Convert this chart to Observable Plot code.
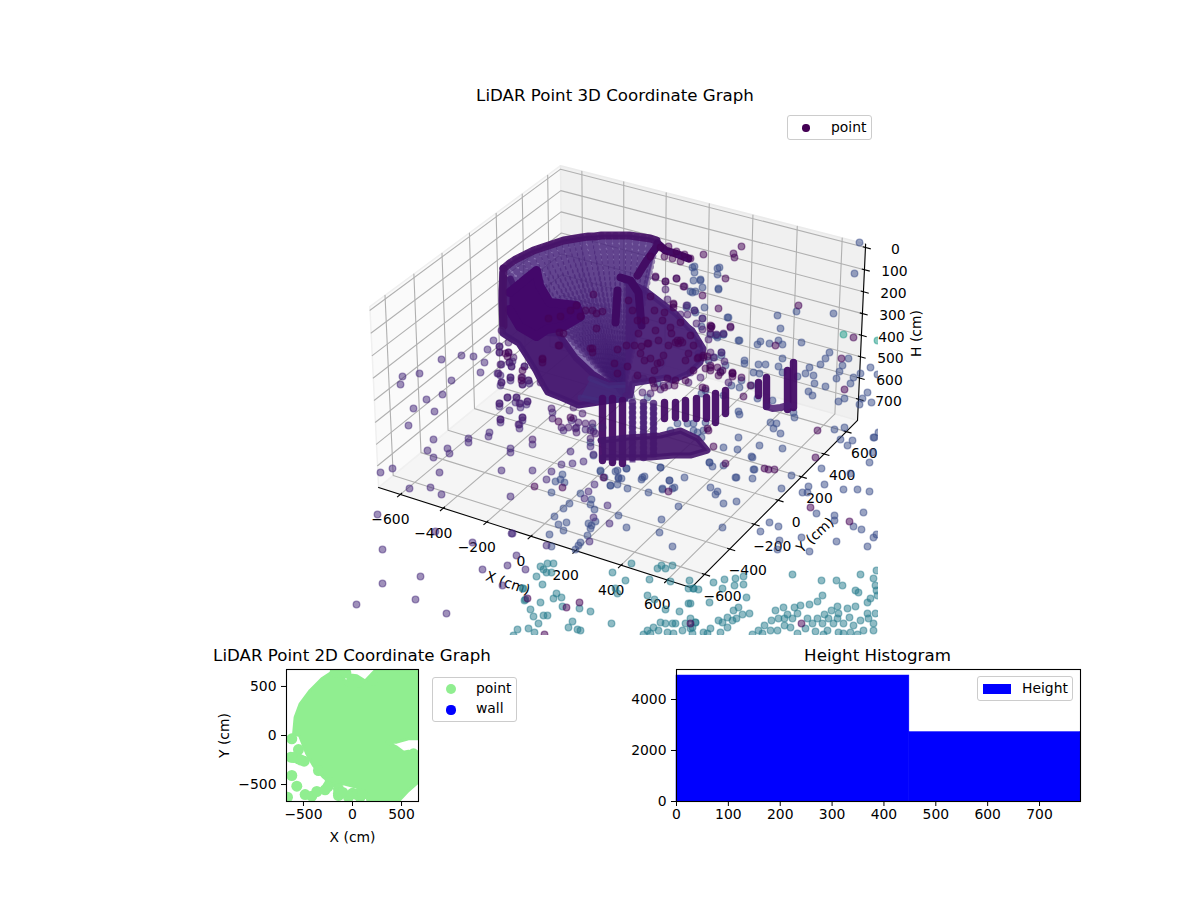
<!DOCTYPE html>
<html><head><meta charset="utf-8">
<script src="https://cdn.jsdelivr.net/npm/d3@7"></script>
<script src="https://cdn.jsdelivr.net/npm/@observablehq/plot@0.6"></script>
<style>
html,body{margin:0;padding:0;background:#fff;font-family:"DejaVu Sans",sans-serif;color:#000}
#page{position:relative;width:1200px;height:900px;overflow:hidden}
.holder{position:absolute}
.holder svg{display:block;background:transparent;font-family:"DejaVu Sans",sans-serif;overflow:visible}
.ttl{position:absolute;font-size:16.67px;line-height:1;white-space:nowrap;transform:translate(-50%,-50%)}
.lg{position:absolute;background:rgba(255,255,255,.8);border:1px solid #ccc;border-radius:3px;box-sizing:border-box}
.lg i{position:absolute;display:block}
.lg span{position:absolute;font-size:13.9px;line-height:1;white-space:nowrap}
</style></head><body><div id="page"></div>
<script>
// ---------- chart values ----------
const xTicks3d=[-600,-400,-200,0,200,400,600];
const yTicks3d=[-600,-400,-200,0,200,400,600];
const hTicks3d=[0,100,200,300,400,500,600,700];
const xyLimit=703, hLow=-16, hHigh=801;
const ticks2d=[-500,0,500];
const histEdges=[0,449,779];
const histCounts=[4940,2720];
const histXTicks=[0,100,200,300,400,500,600,700];
const histYTicks=[0,2000,4000];

const darkDots=[[741,246],[703,254],[733,253],[734,257],[725,278],[702,295],[798,305],[718,308],[730,326],[853,337],[711,326],[775,345],[707,356],[841,358],[844,389],[743,396],[741,377],[732,373],[817,430],[707,428],[815,457],[849,521],[725,463],[713,446],[764,468],[768,469],[774,469],[562,487],[534,486],[668,491],[579,602],[566,607],[527,598],[544,634],[690,623],[801,623],[593,294],[590,348],[542,359],[592,310],[602,311],[596,313],[596,328],[559,332],[558,345],[673,304],[680,340],[675,342],[703,357],[710,365],[717,367],[732,372],[720,372],[705,368],[698,357],[693,345],[710,325],[683,286],[676,278],[665,281],[655,276],[678,343],[710,370],[732,376],[505,353],[507,356],[521,380],[542,362],[592,352],[603,477],[708,430],[750,385],[810,507],[673,307],[710,328],[654,387],[664,387],[674,385],[685,380],[693,370],[685,360],[671,333],[657,363],[644,360],[637,375],[627,366],[617,373],[614,363],[617,349],[641,346],[647,343],[654,370]];
const cloudDark=[[673,303],[670,327],[677,340],[682,342],[658,340],[640,353],[663,355],[688,353],[697,358],[703,355],[710,367],[722,370],[718,375],[732,373],[702,387],[705,388],[675,380],[667,378],[652,380],[637,320],[632,310],[645,320],[662,320],[655,330],[648,343],[638,333],[508,352],[522,370],[521,377],[542,358],[592,348],[559,345],[563,333],[558,421],[570,417],[660,247],[668,246],[676,251],[684,254],[690,258],[664,256],[672,258],[680,261],[650,256],[576,305],[580,316],[570,310],[560,316],[585,310],[548,318],[654,310],[664,312],[680,322],[690,335],[668,345],[650,358],[634,345],[628,300],[650,296],[660,362],[626,345]];
const cloudViolet=[[655,277],[665,281],[676,278],[684,286],[665,289],[667,299],[686,305],[694,310],[680,314],[687,314],[702,318],[696,323],[711,326],[730,327],[716,334],[710,333],[723,333],[708,339],[702,329],[698,343],[721,352],[710,352],[713,357],[724,361],[728,382],[700,377],[690,372],[688,382],[668,385],[660,389],[663,385],[653,383],[643,378],[642,392],[650,393],[635,378],[501,330],[508,342],[499,346],[499,352],[513,357],[509,362],[500,364],[511,366],[524,366],[498,373],[510,377],[528,380],[522,384],[501,382],[540,382],[499,403],[507,397],[516,397],[519,403],[527,401],[500,419],[522,417],[518,424],[532,439],[551,408],[552,418],[561,427],[568,427],[573,418],[578,422],[575,428],[576,432],[582,413],[573,407],[585,423],[592,423],[590,430],[595,433],[590,438],[602,427]];
const violetDots=[[441,359],[461,355],[473,356],[487,349],[484,362],[480,372],[497,373],[501,364],[402,376],[419,373],[400,384],[451,380],[442,394],[426,399],[413,408],[434,411],[408,425],[433,439],[468,438],[489,432],[501,382],[499,403],[507,397],[516,397],[520,403],[527,401],[500,419],[522,417],[519,424],[510,448],[447,448],[449,453],[427,450],[433,457],[380,472],[392,468],[439,472],[501,470],[409,488],[430,487],[441,494],[510,496],[377,514],[435,531],[511,533],[472,542],[382,549],[516,555],[507,565],[482,569],[525,569],[420,576],[382,583],[502,585],[415,599],[356,604],[446,613],[499,346],[499,352],[508,352],[511,366],[509,362],[522,377],[510,377],[522,384],[524,366],[528,380],[493,340],[512,361],[510,380],[500,385],[529,383],[500,375],[552,412],[571,420],[563,430],[576,427],[509,410],[515,402],[526,404],[499,406],[520,407],[500,422],[522,420],[519,428],[488,436],[468,442],[532,444],[510,452],[532,470],[551,471],[561,464],[572,463],[583,461],[593,454],[546,479],[594,484],[588,491],[584,498],[607,505],[593,517],[609,523],[589,541],[546,545],[512,533],[585,429],[593,431],[590,446],[570,451]];
const slateDots=[[562,474],[555,481],[560,479],[564,482],[551,492],[600,471],[604,477],[615,471],[626,468],[618,477],[621,478],[610,485],[617,484],[627,488],[641,479],[644,476],[660,467],[669,480],[684,477],[662,489],[674,487],[648,492],[580,493],[591,499],[569,503],[563,508],[590,504],[594,509],[678,506],[554,516],[618,515],[661,519],[558,524],[566,522],[588,523],[595,521],[591,525],[590,528],[626,527],[659,532],[563,530],[549,534],[587,535],[580,542],[578,545],[575,549],[672,546],[551,546],[719,267],[717,274],[718,289],[700,279],[702,287],[694,272],[693,280],[692,292],[694,266],[796,311],[777,315],[833,313],[694,310],[728,317],[702,318],[780,328],[710,334],[717,335],[723,334],[739,340],[757,344],[760,341],[769,343],[778,340],[782,344],[801,342],[829,352],[825,358],[820,364],[848,358],[842,365],[839,371],[836,378],[809,367],[805,373],[813,375],[782,358],[778,366],[782,372],[744,360],[758,364],[765,364],[721,352],[714,357],[797,376],[759,373],[753,372],[870,367],[860,373],[853,377],[850,383],[877,374],[814,383],[825,386],[808,391],[812,395],[867,392],[862,398],[859,404],[871,402],[844,398],[838,401],[751,385],[739,387],[738,411],[772,400],[793,412],[794,417],[770,422],[776,423],[773,428],[780,433],[834,429],[844,427],[873,437],[878,432],[738,437],[697,432],[701,437],[854,273],[859,242],[759,445],[782,448],[821,468],[791,475],[824,484],[808,486],[802,492],[807,492],[781,488],[843,489],[857,489],[869,491],[816,513],[834,515],[834,520],[863,512],[853,526],[861,529],[876,534],[873,537],[867,546],[836,541],[769,522],[778,526],[760,531],[801,537],[779,540],[809,551],[777,549],[722,527],[723,503],[736,501],[710,487],[717,491],[715,494],[736,477],[752,478],[753,469],[751,456],[752,457],[723,465],[709,462],[712,466],[737,449],[723,447],[874,437],[840,439],[847,445],[852,440],[872,452],[869,462],[850,473],[692,267],[700,280],[717,268],[718,288],[695,291],[690,291],[687,305],[704,307],[727,317],[715,335],[723,334],[738,340],[686,307],[695,312],[701,326],[717,337],[721,355],[698,353],[708,360],[725,365],[744,363],[741,380],[720,371],[731,385],[723,395],[739,414],[705,390],[701,393],[647,397],[657,383],[600,470],[617,470],[618,478],[642,477],[626,468],[660,467],[669,480],[610,485],[662,488],[672,488],[709,462],[754,469],[735,477],[757,398],[670,430],[677,423],[687,423],[693,430],[703,430],[693,423],[705,422],[593,455],[590,442],[592,427]];
const tealDots=[[523,588],[525,599],[530,609],[528,628],[517,629],[513,635],[631,563],[672,565],[657,568],[661,565],[665,568],[540,566],[547,563],[553,563],[543,569],[546,572],[551,572],[536,576],[542,584],[612,572],[625,580],[615,588],[649,579],[670,581],[617,593],[522,588],[524,600],[556,593],[553,598],[561,597],[540,602],[562,606],[579,608],[590,611],[533,616],[543,615],[547,615],[647,595],[654,599],[688,603],[665,609],[679,611],[688,588],[693,588],[698,589],[689,580],[572,621],[568,627],[538,623],[611,623],[577,629],[580,630],[534,632],[660,622],[665,623],[672,623],[675,623],[685,623],[690,618],[695,622],[690,628],[653,627],[647,630],[658,630],[667,632],[673,633],[682,630],[643,634],[650,633],[792,574],[860,574],[876,570],[873,578],[836,580],[821,580],[842,585],[875,585],[855,590],[858,592],[876,590],[822,595],[877,595],[870,598],[867,602],[817,601],[809,604],[800,605],[794,607],[783,607],[855,606],[847,608],[837,606],[831,610],[775,610],[787,614],[797,613],[838,613],[824,614],[867,613],[875,613],[778,618],[784,618],[792,618],[807,618],[817,618],[828,618],[837,618],[849,617],[860,620],[868,618],[771,620],[764,625],[784,625],[812,623],[822,623],[833,623],[843,623],[853,625],[873,623],[758,630],[770,630],[777,630],[790,627],[805,628],[815,631],[827,630],[838,632],[850,632],[863,630],[873,630],[752,634],[797,633],[823,634],[843,633],[857,634],[713,582],[724,579],[735,578],[743,576],[743,584],[734,585],[722,588],[746,597],[709,602],[738,607],[733,610],[749,613],[742,614],[727,617],[718,620],[736,618],[732,620],[722,622],[710,628],[720,632],[703,632],[707,633],[727,627],[695,622],[692,627],[693,588],[690,603],[762,633],[692,633]];
const mintDots=[[843,334],[877,340]];

// solid bands of overlapping returns
const fanRim=[[503,268],[509,263],[515,259],[521,256],[527,253],[533,250],[539,248],[545,246],[551,244],[557,242],[563,240],[569,239],[575,238],[581,237],[588,236],[594,236],[601,235],[608,235],[615,235],[622,235],[629,235],[636,236],[643,237],[650,238],[656,240]];
const fanApex=[622,392];
const fanSkirt=[[592,373],[575,357],[558,333],[540,330]];
const bodyLeft=[[502,272],[501,300],[502,333],[508,337],[518,343],[527,357],[535,370],[540,380],[547,392],[562,398],[578,405],[598,402],[625,398],[625,387],[608,383],[592,373],[575,357],[558,333],[533,332],[515,290],[510,278]];
const bodyCore=[[590,378],[608,385],[628,384],[632,398],[600,401],[580,397]];
const bodyRight=[[625,280],[645,290],[662,303],[675,313],[688,327],[692,330],[703,348],[700,362],[688,373],[672,380],[665,377],[650,380],[632,383],[630,395],[625,395]];
const blobDark=[[509,292],[526,278],[536,270],[539,285],[549,302],[576,305],[580,316],[563,326],[546,329],[536,336],[519,326],[509,309]];
const blobFloor=[[600,440],[627,437],[660,435],[680,430],[697,438],[707,450],[690,455],[673,455],[650,457],[602,457]];
const archA=[[620,277],[630,280],[638,292],[641,325]];
const archB=[[617,290],[615,322]];
const wing=[[657,243],[665,250],[675,253],[688,258]];
const wingDrop=[[657,245],[645,262],[637,275]];
const leftEdge=[[503,268],[502,290],[503,325]];
const columnX=[602,612,622,632,643,653,664,675,685,696,706,715,725,793,787,766,758];
const columnTop=[398,398,400,402,402,403,402,402,400,398,397,393,390,362,370,377,382];
const columnBottom=[460,462,463,462,458,457,418,417,418,418,418,422,413,407,409,406,395];
const foot=[[766,406],[772,408],[780,407],[788,405]];

// 2D panel, centimetres
const outlineCm=[[-602,0],[-585,187],[-534,323],[-432,459],[-313,578],[-211,646],[-194,690],[-126,690],[-109,629],[-58,510],[-40,620],[44,610],[129,555],[180,610],[231,663],[282,690],[690,690],[690,-34],[571,-34],[452,-68],[350,-68],[452,-119],[520,-170],[571,-160],[690,-221],[690,-459],[571,-561],[452,-687],[163,-687],[139,-595],[44,-527],[-92,-493],[-194,-510],[-296,-425],[-398,-306],[-466,-187],[-534,-17]];
const edgeDotsCm=[[-619,-34],[-551,-143],[-629,-221],[-551,-238],[-493,-262],[-600,-225],[-525,-250],[-619,-408],[-568,-517],[-663,-629],[-483,-602],[-415,-619],[-364,-571],[-279,-554],[-347,-357],[-143,-612],[-41,-629],[78,-629],[-143,-544],[-177,646],[-68,639],[61,544],[214,568],[622,-187],[-143,-590],[-100,-580],[0,-590],[40,-600],[100,-600],[-230,-480],[-250,-520]];

// ---------- view projection (elev 30, azim -60) ----------
function project(X,Y,H){
  const dx=X/xyLimit*.595, dy=Y/xyLimit*.595, dz=((hLow+hHigh)/2-H)/((hHigh-hLow)/2)*.346;
  const u=.866*dx+.5*dy, v=-.25*dx+.433*dy+.866*dz, depth=10-(.433*dx-.75*dy+.5*dz);
  return {x:622+2996*u/depth, y:365-2980*v/depth};
}
const L=xyLimit, T=hLow, B=hHigh, tickUnit=2*L/12;
const pane=(id,c)=>c.map(p=>({...project(...p),id}));
const paneFloor=pane("floor",[[-L,-L,B],[L,-L,B],[L,L,B],[-L,L,B],[-L,-L,B]]);
const paneLeft=pane("left",[[-L,-L,B],[-L,L,B],[-L,L,T],[-L,-L,T],[-L,-L,B]]);
const paneBack=pane("back",[[-L,L,B],[L,L,B],[L,L,T],[-L,L,T],[-L,L,B]]);
const grid=[
  ...xTicks3d.flatMap(t=>[[t,-L,B],[t,L,B],[t,L,T]].map(p=>({...project(...p),id:"x"+t}))),
  ...yTicks3d.flatMap(t=>[[L,t,B],[-L,t,B],[-L,t,T]].map(p=>({...project(...p),id:"y"+t}))),
  ...hTicks3d.flatMap(t=>[[-L,-L,t],[-L,L,t],[L,L,t]].map(p=>({...project(...p),id:"h"+t})))
];
const axesLines=[[-L,-L,B],[L,-L,B],[L,L,B],[L,L,T]].map(p=>project(...p));
const seg=(a,b)=>{const p=project(...a),q=project(...b);return {x1:p.x,y1:p.y,x2:q.x,y2:q.y};};
const tickSegs=[
  ...xTicks3d.map(t=>seg([t,-L+.1*tickUnit,B],[t,-L-.2*tickUnit,B])),
  ...yTicks3d.map(t=>seg([L-.1*tickUnit,t,B],[L+.2*tickUnit,t,B])),
  ...hTicks3d.map(t=>seg([L-.1*tickUnit,L,t],[L+.2*tickUnit,L,t]))
];
const fmt=d=>String(d).replace("-","\u2212");
const xLabels=xTicks3d.map(t=>({...project(t,-L,B),t:fmt(t)}));
const yLabels=yTicks3d.map(t=>({...project(L,t,B),t:fmt(t)}));
const hLabels=hTicks3d.map(t=>({...project(L,L,t),t:fmt(t)}));
const toDots=(a,v)=>a.map(([x,y])=>({x,y,v}));
const behindDots=[...toDots(mintDots,.55),...toDots(tealDots,.42),...toDots(slateDots,.24),...toDots(violetDots,.12)];
const frontDots=[...toDots(cloudViolet,.08),...toDots(darkDots,.01),...toDots(cloudDark,.01)];
const dotStyle={x:"x",y:"y",r:3.3,fill:"v",stroke:"v",strokeWidth:1.3,fillOpacity:.52,strokeOpacity:.52,clip:true};
const px=p=>p[0], py=p=>p[1];
const band=(a,stroke,w,o=1)=>Plot.line(a,{x:px,y:py,stroke,strokeWidth:w,strokeOpacity:o,strokeLinecap:"round",strokeLinejoin:"round"});
const poly=(a,fill,o,w=6)=>Plot.line(a,{x:px,y:py,fill,fillOpacity:o,stroke:fill,strokeOpacity:o,strokeWidth:w,strokeLinejoin:"round"});
const columns=columnX.map((x,i)=>({x,top:columnTop[i],bottom:columnBottom[i],dark:i<3||i>5}));
const fanBody=[...fanRim,fanApex,...fanSkirt];

// ---------- 3D panel ----------
const main=Plot.plot({
  width:1200,height:650,marginLeft:352,marginRight:322,marginTop:104,marginBottom:15,
  x:{domain:[352,878],range:[352,878],axis:null},
  y:{domain:[104,635],range:[104,635],axis:null},
  color:{type:"linear",scheme:"viridis",domain:[0,1]},
  style:{fontFamily:"DejaVu Sans",fontSize:"13.9px",color:"#000"},
  marks:[
    Plot.line(paneFloor,{x:"x",y:"y",fill:"#f5f5f5",stroke:"#f0f0f0"}),
    Plot.line(paneLeft,{x:"x",y:"y",fill:"#fafafa",stroke:"#f0f0f0"}),
    Plot.line(paneBack,{x:"x",y:"y",fill:"#f0f0f0",stroke:"#ebebeb"}),
    Plot.line(grid,{x:"x",y:"y",z:"id",stroke:"#b0b0b0",strokeWidth:1.1}),
    Plot.line(axesLines,{x:"x",y:"y",stroke:"#000",strokeWidth:1.1}),
    Plot.link(tickSegs,{x1:"x1",y1:"y1",x2:"x2",y2:"y2",stroke:"#000",strokeWidth:1.1}),
    Plot.text(xLabels,{x:"x",y:"y",text:"t",dx:-10,dy:25,fill:"#000"}),
    Plot.text(yLabels,{x:"x",y:"y",text:"t",dx:18,dy:22,fill:"#000"}),
    Plot.text(hLabels,{x:"x",y:"y",text:"t",dx:30,dy:2,fill:"#000"}),
    Plot.text([{...project(0,-L,B),t:"X (cm)"}],{x:"x",y:"y",text:"t",dx:-23,dy:47,rotate:19,fill:"#000"}),
    Plot.text([{...project(L,0,B),t:"Y (cm)"}],{x:"x",y:"y",text:"t",dx:37,dy:35,rotate:-43,fill:"#000"}),
    Plot.text([{...project(L,L,392),t:"H (cm)"}],{x:"x",y:"y",text:"t",dx:55,rotate:-90,fill:"#000"}),
    Plot.dot(behindDots,dotStyle),
    poly(fanBody,"#5a3c92",.72,2),
    Plot.link(fanRim,{x1:px,y1:py,x2:()=>fanApex[0],y2:()=>fanApex[1],stroke:"#3f1a70",strokeWidth:6.8,strokeOpacity:.5,strokeDasharray:"0 5.4",strokeLinecap:"round"}),
    poly(bodyLeft,"#45186f",.97),
    poly(bodyCore,"#44307f",.55),
    poly(bodyRight,"#481f75",.95),
    poly(blobDark,"#43086a",1,9),
    band(fanRim,"#451066",8,.9),
    band(leftEdge,"#451066",8,.85),
    band(archA,"#3f0a63",8),
    band(archB,"#3f0a63",8),
    band(wing,"#430c64",8),
    band(wingDrop,"#430c64",8),
    Plot.link(columns.filter(d=>d.dark),{x1:"x",y1:"top",x2:"x",y2:"bottom",stroke:"#430b66",strokeWidth:7.4,strokeOpacity:.95,strokeLinecap:"round"}),
    Plot.link(columns.filter(d=>!d.dark),{x1:"x",y1:"top",x2:"x",y2:"bottom",stroke:"#482078",strokeWidth:6,strokeOpacity:.75}),
    Plot.link(columns.filter(d=>!d.dark),{x1:"x",y1:"top",x2:"x",y2:"bottom",stroke:"#451a74",strokeWidth:7.6,strokeOpacity:.8,strokeDasharray:"0 5",strokeLinecap:"round"}),
    poly(blobFloor,"#45176c",.92),
    band(foot,"#4a1a72",7,.85),
    Plot.dot(frontDots,dotStyle)
  ]
});
// ---------- 2D panel ----------
const flat=Plot.plot({
  width:330,height:211,marginLeft:86,marginRight:112,marginTop:29,marginBottom:50,
  x:{domain:[-673,673]},y:{domain:[-673,673]},
  style:{fontFamily:"DejaVu Sans",fontSize:"13.9px",color:"#000"},
  marks:[
    Plot.line(outlineCm,{x:px,y:py,fill:"#90ee90",stroke:"#90ee90",strokeWidth:3,clip:true}),
    Plot.dot(edgeDotsCm,{x:px,y:py,r:5.5,fill:"#90ee90",clip:true}),
    Plot.frame({stroke:"#000",strokeWidth:1.1}),
    Plot.axisX({ticks:ticks2d,tickFormat:fmt,tickSize:5,tickPadding:3,label:"X (cm)",labelAnchor:"center",labelArrow:"none",labelOffset:40}),
    Plot.axisY({ticks:ticks2d,tickFormat:fmt,tickSize:5,tickPadding:5,label:"Y (cm)",labelAnchor:"center",labelArrow:"none",labelOffset:67})
  ]
});
// ---------- histogram ----------
const bins=histCounts.map((c,i)=>({x1:histEdges[i],x2:histEdges[i+1],c}));
const hist=Plot.plot({
  width:450,height:211,marginLeft:36,marginRight:10,marginTop:29,marginBottom:50,
  x:{domain:[0,779]},y:{domain:[0,5176]},
  style:{fontFamily:"DejaVu Sans",fontSize:"13.9px",color:"#000"},
  marks:[
    Plot.rectY(bins,{x1:"x1",x2:"x2",y:"c",fill:"#0000ff",stroke:"#0000ff",strokeWidth:.5}),
    Plot.frame({stroke:"#000",strokeWidth:1.1}),
    Plot.axisX({ticks:histXTicks,tickFormat:d3.format("d"),tickSize:5,tickPadding:3,label:null}),
    Plot.axisY({ticks:histYTicks,tickFormat:d3.format("d"),tickSize:5,tickPadding:5,label:null})
  ]
});
// ---------- page assembly ----------
const page=document.getElementById("page");
function place(node,left,top){const d=document.createElement("div");d.className="holder";d.style.left=left+"px";d.style.top=top+"px";d.appendChild(node);page.appendChild(d);}
place(main,0,0);place(flat,200,640);place(hist,640,640);
function title(text,x,y){const d=document.createElement("div");d.className="ttl";d.textContent=text;d.style.left=x+"px";d.style.top=y+"px";page.appendChild(d);}
title("LiDAR Point 3D Coordinate Graph",615,96);
title("LiDAR Point 2D Coordinate Graph",352,656);
title("Height Histogram",877.5,656);
function legend(x,y,w,h,items){
  const d=document.createElement("div");d.className="lg";
  Object.assign(d.style,{left:x+"px",top:y+"px",width:w+"px",height:h+"px"});
  for(const it of items){
    const m=document.createElement("i");
    if(it.patch){Object.assign(m.style,{left:it.mx+"px",top:it.my+"px",width:"28px",height:"10px",background:it.color});}
    else{Object.assign(m.style,{left:it.mx-it.r+"px",top:it.my-it.r+"px",width:2*it.r+"px",height:2*it.r+"px",background:it.color,borderRadius:"50%"});}
    d.appendChild(m);
    const s=document.createElement("span");s.textContent=it.text;
    Object.assign(s.style,{left:it.tx+"px",top:it.ty+"px"});d.appendChild(s);
  }
  page.appendChild(d);
}
legend(787,115,85,25,[{color:"#440154",mx:18,my:12,r:3.7,text:"point",tx:43,ty:5}]);
legend(432,677,85,45,[{color:"#90ee90",mx:18,my:11,r:5,text:"point",tx:43,ty:4},{color:"#0000ff",mx:18,my:32,r:4.6,text:"wall",tx:43,ty:24}]);
legend(977,676,96,25,[{patch:true,color:"#0000ff",mx:5,my:7,text:"Height",tx:44,ty:5}]);
</script></body></html>
